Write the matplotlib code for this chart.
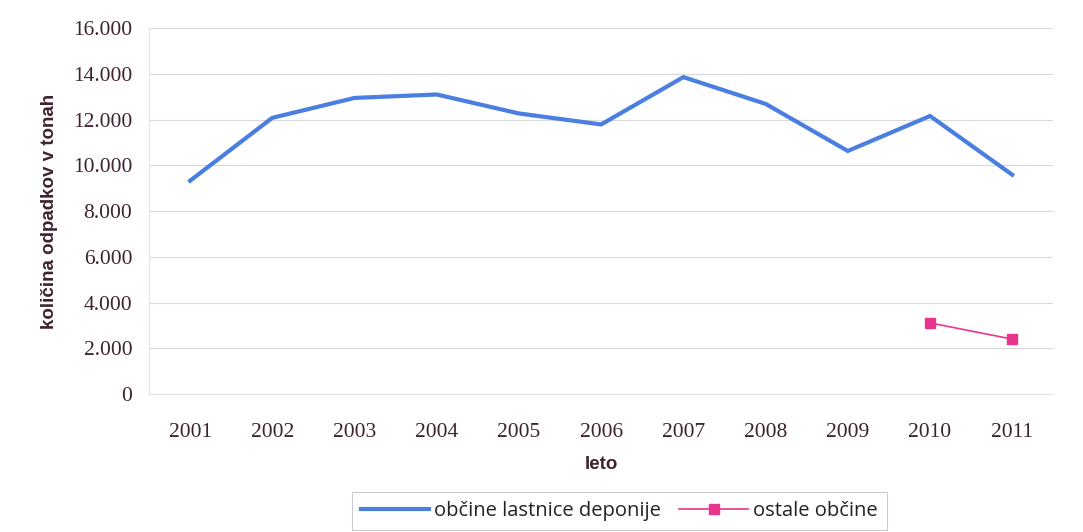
import matplotlib
matplotlib.use("Agg")
import matplotlib.pyplot as plt
from matplotlib.ticker import FuncFormatter, MultipleLocator

years = ["2001", "2002", "2003", "2004", "2005", "2006", "2007", "2008", "2009", "2010", "2011"]
lastnice = [9330, 12080, 12950, 13100, 12270, 11790, 13860, 12690, 10630, 12160, 9590]
ostale_years = ["2010", "2011"]
ostale = [3110, 2400]

label_color = "#3d2230"

fig = plt.figure(figsize=(10.83, 5.32), dpi=100)
ax = fig.add_axes([0.1376, 0.2594, 0.835, 0.6876])

x = list(range(len(years)))
xo = [years.index(y) for y in ostale_years]
ax.plot(x, lastnice, color="#4a7ee0", linewidth=3.0, solid_joinstyle="miter",
        label="občine lastnice deponije")
ax.plot(xo, ostale, color="#e8358e", linewidth=1.2, marker="s", markersize=6.5,
        label="ostale občine")

ax.set_xlim(-0.5, len(years) - 0.5)
ax.set_ylim(0, 16000)
ax.yaxis.set_major_locator(MultipleLocator(2000))
ax.yaxis.set_major_formatter(FuncFormatter(lambda v, p: f"{int(v):,}".replace(",", ".")))
ax.set_xticks(x)
ax.set_xticklabels(years)

ax.grid(axis="y", color="#d9d9d9", linewidth=0.8)
ax.set_axisbelow(True)
for s in ["top", "right"]:
    ax.spines[s].set_visible(False)
for s in ["left", "bottom"]:
    ax.spines[s].set_color("#e4e4e4")
    ax.spines[s].set_linewidth(0.8)
ax.tick_params(axis="both", length=0, colors=label_color)
ax.tick_params(axis="y", pad=12)
ax.tick_params(axis="x", pad=21)
for lab in ax.get_xticklabels() + ax.get_yticklabels():
    lab.set_fontfamily("Liberation Serif")
    lab.set_fontsize(15.5)
    lab.set_color(label_color)

ax.set_ylabel("količina odpadkov v tonah", fontfamily="Liberation Sans", fontsize=13.5,
              fontweight="bold", color=label_color, labelpad=11)
ax.set_xlabel("leto", fontfamily="Liberation Sans", fontsize=13.5, fontweight="bold",
              color=label_color, labelpad=10)

leg = ax.legend(loc="upper center", bbox_to_anchor=(0.52, -0.24), ncol=2, frameon=True,
                fancybox=False, edgecolor="#bfbfbf", handlelength=3.4, handletextpad=0.25,
                columnspacing=0.9, borderpad=0.45,
                prop={"family": "Open Sans", "size": 14.5})
leg.get_frame().set_linewidth(0.8)
for t in leg.get_texts():
    t.set_color("#222222")

fig.savefig("out.png", dpi=100)
